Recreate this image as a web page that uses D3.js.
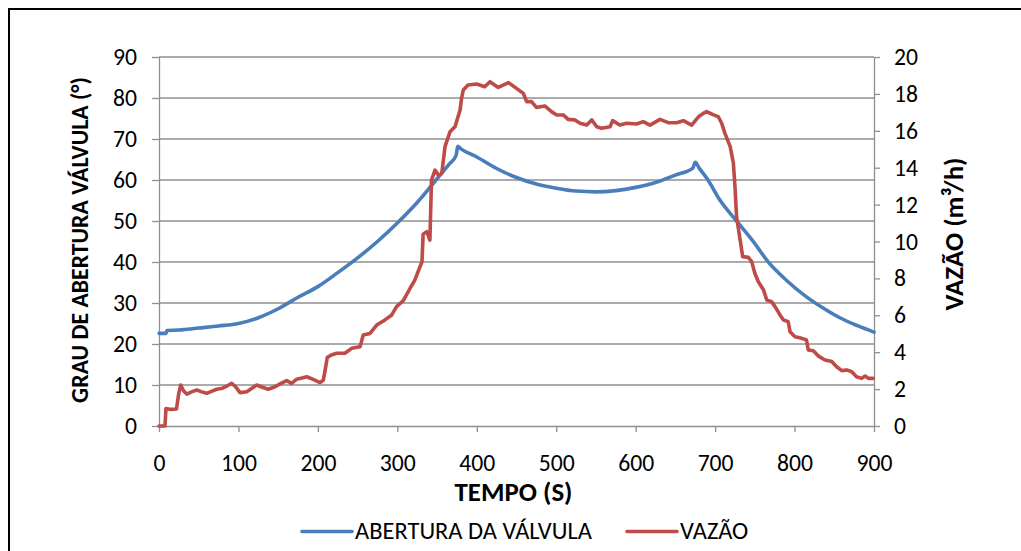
<!DOCTYPE html>
<html>
<head>
<meta charset="utf-8">
<script src="https://cdn.jsdelivr.net/npm/d3@7/dist/d3.min.js"></script>
<style>
  html, body { margin: 0; padding: 0; background: #fff; }
  svg { display: block; }
  text { font-family: Calibri, Carlito, Lato, "Open Sans", sans-serif; fill: #000; }
</style>
</head>
<body>
<svg id="chart" width="1021" height="551"></svg>
<script>
// Valve opening angle (degrees) against time (s)
const timeValve = [0, 9, 10, 25, 50, 75, 100, 125, 150, 175, 200, 225, 250, 275, 300, 325, 350, 365, 374, 376, 380, 400, 425, 450, 475, 500, 525, 550, 575, 600, 625, 650, 672, 675, 680, 691, 706, 727, 750, 766, 790, 815, 840, 857, 880, 900];
const valveDeg  = [22.6, 22.6, 23.3, 23.4, 23.9, 24.4, 25.0, 26.4, 28.6, 31.4, 34.0, 37.4, 41.0, 45.0, 49.5, 54.5, 60.3, 63.8, 66.0, 68.2, 67.6, 65.6, 62.8, 60.6, 59.0, 58.0, 57.3, 57.1, 57.4, 58.2, 59.4, 61.2, 62.9, 64.3, 62.9, 60.0, 55.1, 50.0, 44.5, 40.2, 35.5, 31.5, 28.3, 26.4, 24.4, 22.9];

// Flow rate (m³/h) against time (s)
const timeFlow = [0, 7.5, 8.8, 15, 22, 25, 27.3, 31, 35, 41, 47.4, 54, 60, 66, 72.6, 80, 86, 91.5, 96, 102, 110.4, 117, 123, 130, 137.6, 146, 153, 160.7, 167, 173, 180, 186, 194, 202.7, 206.8, 209, 211.9, 217, 223.7, 234, 242.5, 253, 255, 257, 265.6, 274, 284.5, 293, 299, 307.5, 316, 322, 328.5, 331, 332.5, 337, 341, 343, 347.4, 351.6, 356, 360, 366.3, 372.6, 379, 381, 383, 389, 400, 410, 416.6, 427, 440, 450, 458.6, 462.8, 469, 475, 486, 494, 500.6, 509, 515, 523.6, 530, 538.4, 544.7, 551, 557, 567.7, 571, 580, 588.7, 601, 609.6, 618, 630.7, 641, 651.6, 660, 670.5, 679, 685, 689.5, 698, 704, 708.3, 712, 719, 723, 725, 727, 731.5, 734.7, 741.8, 746, 750, 754.4, 761, 765, 771, 775.4, 781.7, 786, 792, 794.3, 800.6, 809, 815, 817.3, 823.6, 830, 838.4, 846.8, 853, 859.4, 865.7, 872, 878, 884.5, 888.8, 893, 899];
const flowRate = [0, 0, 0.95, 0.9, 0.92, 1.8, 2.22, 1.9, 1.73, 1.85, 1.95, 1.85, 1.77, 1.88, 1.99, 2.05, 2.18, 2.31, 2.15, 1.81, 1.86, 2.05, 2.22, 2.1, 1.99, 2.13, 2.3, 2.46, 2.31, 2.53, 2.6, 2.67, 2.53, 2.35, 2.49, 3.0, 3.72, 3.85, 3.94, 3.94, 4.21, 4.3, 4.6, 4.93, 5.02, 5.47, 5.75, 6.02, 6.47, 6.8, 7.46, 7.91, 8.63, 8.9, 10.4, 10.53, 10.08, 13.33, 13.87, 13.6, 13.7, 15.14, 15.95, 16.22, 17.13, 17.8, 18.21, 18.48, 18.54, 18.39, 18.66, 18.35, 18.61, 18.3, 18.03, 17.58, 17.58, 17.27, 17.34, 17.04, 16.86, 16.86, 16.62, 16.59, 16.41, 16.31, 16.59, 16.22, 16.14, 16.22, 16.55, 16.31, 16.41, 16.37, 16.5, 16.31, 16.62, 16.44, 16.44, 16.55, 16.31, 16.76, 16.94, 17.04, 16.86, 16.76, 16.41, 15.9, 15.14, 14.24, 12.97, 11.34, 10.08, 9.18, 9.14, 8.91, 8.28, 7.82, 7.37, 6.83, 6.74, 6.47, 6.02, 5.75, 5.65, 5.11, 4.84, 4.75, 4.66, 4.12, 4.08, 3.79, 3.58, 3.49, 3.21, 3.0, 3.04, 2.94, 2.67, 2.58, 2.71, 2.58, 2.58];

// Axis ticks and labels
const timeTicks  = [0, 100, 200, 300, 400, 500, 600, 700, 800, 900];
const degTicks   = [0, 10, 20, 30, 40, 50, 60, 70, 80, 90];
const flowTicks  = [0, 2, 4, 6, 8, 10, 12, 14, 16, 18, 20];
const seriesNames = ["ABERTURA DA VÁLVULA", "VAZÃO"];
const seriesColors = ["#4a7ebb", "#be4b48"];
const xTitle = "TEMPO (S)";
const yLeftTitle = "GRAU DE ABERTURA VÁLVULA (°)";
const yRightTitle = "VAZÃO (m³/h)";

const svg = d3.select("#chart");
const plot = { left: 159, right: 874, top: 57, bottom: 426 };
const gridColor = "#8f8f8f";

// scale a text's font so that it spans the wanted width
function fitFont(sel, width) {
  sel.attr("font-size", 20);
  const w = sel.node().getComputedTextLength();
  const size = 20 * width / w;
  sel.attr("font-size", size);
  return size;
}

// outer frame
svg.append("rect")
  .attr("x", 9).attr("y", 9).attr("width", 1030).attr("height", 560)
  .attr("fill", "none").attr("stroke", "#000").attr("stroke-width", 2);

const x = d3.scaleLinear().domain([0, 900]).range([plot.left, plot.right]);
const yL = d3.scaleLinear().domain([0, 90]).range([plot.bottom, plot.top]);
const yR = d3.scaleLinear().domain([0, 20]).range([plot.bottom, plot.top]);

// horizontal gridlines
svg.append("g").selectAll("line").data(degTicks.filter(d => d > 0)).join("line")
  .attr("x1", plot.left).attr("x2", plot.right)
  .attr("y1", d => yL(d)).attr("y2", d => yL(d))
  .attr("stroke", gridColor).attr("stroke-width", 1.3);

// tick label size, from the width of a two-digit label
const probe = svg.append("text").text("90");
const tickSize = fitFont(probe, 24);
probe.remove();

function styleAxis(g) {
  g.select(".domain").attr("stroke", gridColor).attr("stroke-width", 1.3);
  g.selectAll(".tick line").attr("stroke", gridColor).attr("stroke-width", 1.3);
  g.selectAll(".tick text").attr("font-size", tickSize).attr("fill", "#000");
}

// left axis
svg.append("g").attr("transform", `translate(${plot.left},0)`)
  .call(d3.axisLeft(yL).tickValues(degTicks).tickSize(7).tickPadding(15).tickSizeOuter(0))
  .call(styleAxis);

// right axis
svg.append("g").attr("transform", `translate(${plot.right},0)`)
  .call(d3.axisRight(yR).tickValues(flowTicks).tickSize(6).tickPadding(14).tickSizeOuter(0))
  .call(styleAxis);

// bottom axis
svg.append("g").attr("transform", `translate(0,${plot.bottom})`)
  .call(d3.axisBottom(x).tickValues(timeTicks).tickSize(6).tickSizeOuter(0))
  .call(styleAxis)
  .call(g => g.selectAll(".tick text").attr("y", 45).attr("dy", 0));

// series lines
const valveLine = d3.line().x((d, i) => x(timeValve[i])).y(d => yL(d)).curve(d3.curveMonotoneX);
const flowLine = d3.line().x((d, i) => x(timeFlow[i])).y(d => yR(d));

svg.append("path").datum(valveDeg).attr("d", valveLine)
  .attr("fill", "none").attr("stroke", seriesColors[0]).attr("stroke-width", 3.6)
  .attr("stroke-linejoin", "round").attr("stroke-linecap", "round");

svg.append("path").datum(flowRate).attr("d", flowLine)
  .attr("fill", "none").attr("stroke", seriesColors[1]).attr("stroke-width", 3.6)
  .attr("stroke-linejoin", "round").attr("stroke-linecap", "round");

// axis titles
const tx = svg.append("text").attr("x", (plot.left + plot.right) / 2 - 3).attr("y", 501)
  .attr("text-anchor", "middle").attr("font-weight", "bold").text(xTitle);
fitFont(tx, 118);

const tl = svg.append("text").attr("transform", `translate(88,240) rotate(-90)`)
  .attr("text-anchor", "middle").attr("font-weight", "bold").text(yLeftTitle);
fitFont(tl, 326);

const tr = svg.append("text").attr("transform", `translate(963,234) rotate(-90)`)
  .attr("text-anchor", "middle").attr("font-weight", "bold").text(yRightTitle);
fitFont(tr, 153);

// legend
const legendX = [302, 627];
const legend = svg.append("g");
let legendSize = null;
seriesNames.forEach((name, i) => {
  legend.append("line")
    .attr("x1", legendX[i]).attr("x2", legendX[i] + 50)
    .attr("y1", 531.5).attr("y2", 531.5)
    .attr("stroke", seriesColors[i]).attr("stroke-width", 3.6).attr("stroke-linecap", "round");
  const t = legend.append("text").attr("x", legendX[i] + 53).attr("y", 539).text(name);
  if (legendSize === null) legendSize = fitFont(t, 237);
  else t.attr("font-size", legendSize);
});
</script>
</body>
</html>
